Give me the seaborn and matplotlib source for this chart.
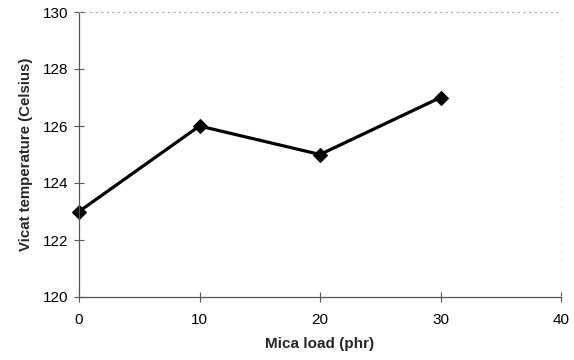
import matplotlib
matplotlib.use("Agg")
import matplotlib.pyplot as plt
import seaborn as sns
import pandas as pd

mica_load = [0, 10, 20, 30]
vicat_temp = [123, 126, 125, 127]
x_ticks = [0, 10, 20, 30, 40]
y_ticks = [120, 122, 124, 126, 128, 130]

sns.set_theme(style="white")
plt.rcParams['font.family'] = ['Liberation Sans', 'DejaVu Sans']
plt.rcParams['xtick.bottom'] = True
plt.rcParams['ytick.left'] = True

df = pd.DataFrame({"Mica load (phr)": mica_load, "Vicat temperature (Celsius)": vicat_temp})

fig = plt.figure(figsize=(5.74, 3.6), dpi=100)
ax = fig.add_axes([79/574, 1-297/360, (561-79)/574, (297-12)/360])

sns.lineplot(data=df, x="Mica load (phr)", y="Vicat temperature (Celsius)", ax=ax,
             color="black", linewidth=2.3, marker="D", markersize=7,
             markeredgecolor="black", markerfacecolor="black")

ax.set_xlim(0, 40)
ax.set_ylim(120, 130)
ax.set_xticks(x_ticks)
ax.set_yticks(y_ticks)
ax.tick_params(axis="both", bottom=True, left=True, direction="inout", length=7, width=0.8,
               color="#555555", labelsize=11, labelcolor="black", pad=8)
ax.tick_params(axis="y", pad=4)
ax.set_xlabel("Mica load (phr)", fontsize=11, fontweight="bold", labelpad=7)
ax.set_ylabel("Vicat temperature (Celsius)", fontsize=10.8, fontweight="bold", labelpad=7)

for s in ["left", "bottom"]:
    ax.spines[s].set_color("#555555")
    ax.spines[s].set_linewidth(0.9)
ax.spines["top"].set_color("#aaaaaa")
ax.spines["top"].set_linestyle((0, (1, 4)))
ax.spines["top"].set_linewidth(0.8)
ax.spines["right"].set_color("#dddddd")
ax.spines["right"].set_linestyle((0, (1, 8)))
ax.spines["right"].set_linewidth(0.6)
for l in ax.lines:
    l.set_clip_on(False)

fig.savefig("out.png", dpi=100)
